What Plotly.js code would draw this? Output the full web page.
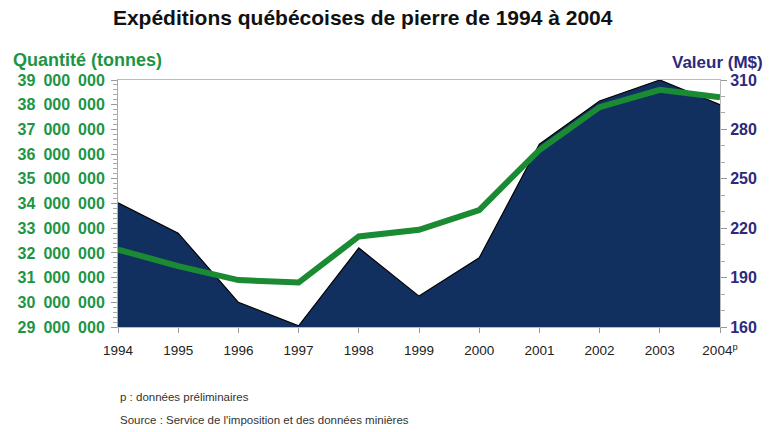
<!DOCTYPE html>
<html><head><meta charset="utf-8">
<script src="https://cdn.plot.ly/plotly-3.0.1.min.js"></script>
<style>body{margin:0;background:#fff}#c{width:770px;height:432px}</style>
</head><body><div id="c"></div>
<script>
const years = [1994,1995,1996,1997,1998,1999,2000,2001,2002,2003,2004];
const yearLabels = ['1994','1995','1996','1997','1998','1999','2000','2001','2002','2003','2004<sup>p</sup>'];
const quantite = [34030000,32800000,30000000,29050000,32200000,30250000,31800000,36400000,38150000,39000000,38000000];
const valeur = [207,197,188.5,187,215,219,231,267.5,293.5,304,299.5];
const qTicks = [29000000,30000000,31000000,32000000,33000000,34000000,35000000,36000000,37000000,38000000,39000000];
const qTickText = ['29\u2002000\u2002000','30\u2002000\u2002000','31\u2002000\u2002000','32\u2002000\u2002000','33\u2002000\u2002000','34\u2002000\u2002000','35\u2002000\u2002000','36\u2002000\u2002000','37\u2002000\u2002000','38\u2002000\u2002000','39\u2002000\u2002000'];
const vTicks = [160,190,220,250,280,310];

const green = '#1d9545';
const navy = '#2d2a7c';
const ff = 'Liberation Sans, Arial, sans-serif';

const traces = [
  {x: years, y: quantite, type:'scatter', mode:'lines', fill:'tozeroy',
   fillcolor:'#12305f', line:{color:'#000', width:1.2}, yaxis:'y', hoverinfo:'none'},
  {x: years, y: valeur, type:'scatter', mode:'lines', line:{color:'#1a8a33', width:6},
   yaxis:'y2', hoverinfo:'none'}
];

const layout = {
  width:770, height:432, showlegend:false,
  paper_bgcolor:'#fff', plot_bgcolor:'#fff',
  margin:{l:118, r:50, t:80, b:105},
  font:{family:ff, size:12, color:'#333'},
  title:{text:'<b>Expéditions québécoises de pierre de 1994 à 2004</b>', x:0.471, xanchor:'center', y:0.958, yanchor:'middle',
         font:{size:21, color:'#111', family:ff}},
  xaxis:{range:[1994,2004], tickvals:years, ticktext:yearLabels, showgrid:false, zeroline:false,
         showline:true, linecolor:'#bbb', linewidth:1, mirror:true,
         ticks:'outside', ticklen:5, tickcolor:'#999', ticklabelstandoff:6,
         tickfont:{size:13.5, color:'#222'}},
  yaxis:{range:[29000000,39000000], tickvals:qTicks, ticktext:qTickText, showgrid:false, zeroline:false,
         showline:true, linecolor:'#aaa', ticks:'outside', ticklen:6, tickcolor:'#999',
         ticklabelstandoff:3,
         minor:{ticks:'outside', tickmode:'linear', tick0:29000000, dtick:200000, ticklen:4, tickcolor:'#aaa', showgrid:false},
         tickfont:{size:16, color:green, family:ff, weight:'bold'}},
  yaxis2:{range:[160,310], tickvals:vTicks, overlaying:'y', side:'right', showgrid:false, zeroline:false,
          showline:true, linecolor:'#bbb', ticks:'outside', ticklen:6, tickcolor:'#999',
          minor:{ticks:'outside', tickmode:'linear', tick0:160, dtick:10, ticklen:4, tickcolor:'#aaa', showgrid:false},
          tickfont:{size:16, color:navy, family:ff, weight:'bold'}},
  annotations:[
    {text:'<b>Quantité (tonnes)</b>', xref:'paper', yref:'paper', x:-0.178, y:1.081, xanchor:'left', yanchor:'middle',
     showarrow:false, font:{size:18, color:green}},
    {text:'<b>Valeur (M$)</b>', xref:'paper', yref:'paper', x:1.075, y:1.069, xanchor:'right', yanchor:'middle',
     showarrow:false, font:{size:17, color:navy}},
    {text:'p : données préliminaires', xref:'paper', yref:'paper', x:0.0, y:-0.285, xanchor:'left', yanchor:'middle',
     showarrow:false, font:{size:11.5, color:'#333'}},
    {text:'Source : Service de l\'imposition et des données minières', xref:'paper', yref:'paper', x:0.0, y:-0.375, xanchor:'left', yanchor:'middle',
     showarrow:false, font:{size:11.5, color:'#333'}}
  ]
};
Plotly.newPlot('c', traces, layout, {staticPlot:true, displayModeBar:false});
</script></body></html>
